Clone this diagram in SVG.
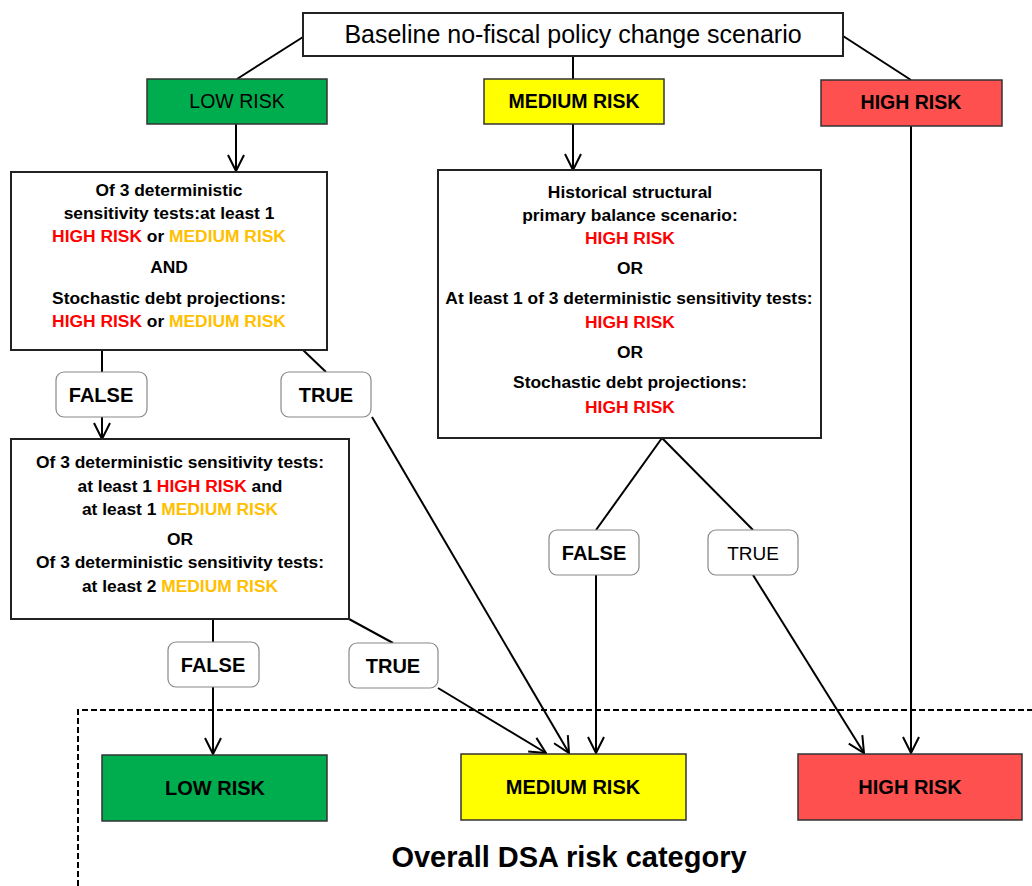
<svg xmlns="http://www.w3.org/2000/svg" width="1032" height="886" viewBox="0 0 1032 886">
<style>
text{font-family:"Liberation Sans",Arial,sans-serif;text-anchor:middle;fill:#000}
.box{fill:#fff;stroke:#222;stroke-width:2}
.lbl{fill:#fff;stroke:#888;stroke-width:1.2}
.b{font-weight:bold}
.t17{font-size:17.4px;font-weight:bold}
.l19{font-size:20px;font-weight:bold}
.r{fill:#ff0000}
.o{fill:#ffc000}
.con{stroke:#000;stroke-width:2;fill:none}
</style>
<defs>
<marker id="arr" markerUnits="userSpaceOnUse" markerWidth="18" markerHeight="18" viewBox="0 0 18 18" refX="17" refY="9" orient="auto">
<path d="M1,1 L17,9 L1,17" fill="none" stroke="#000" stroke-width="2"/>
</marker>
</defs>
<g id="frame">
<path d="M78,886 V710 H1032" fill="none" stroke="#000" stroke-width="2" stroke-dasharray="6,3"/>
<text x="569" y="867" class="b" font-size="29">Overall DSA risk category</text>
</g>
<g id="connectors" class="con">
<line x1="303" y1="37" x2="237" y2="79"/>
<line x1="573" y1="56" x2="573" y2="79"/>
<line x1="843" y1="36" x2="911" y2="80"/>
<line x1="236" y1="124" x2="236" y2="171" marker-end="url(#arr)"/>
<line x1="573" y1="124" x2="573" y2="170" marker-end="url(#arr)"/>
<line x1="102" y1="350" x2="102" y2="372"/>
<line x1="102" y1="417" x2="102" y2="439" marker-end="url(#arr)"/>
<line x1="303" y1="350" x2="326" y2="372"/>
<line x1="372" y1="417" x2="569" y2="753" marker-end="url(#arr)"/>
<line x1="213" y1="619" x2="213" y2="642"/>
<line x1="213" y1="687" x2="213" y2="754" marker-end="url(#arr)"/>
<line x1="349" y1="619" x2="393" y2="643"/>
<line x1="438" y1="688" x2="546" y2="753" marker-end="url(#arr)"/>
<line x1="662" y1="438" x2="596" y2="530"/>
<line x1="662" y1="438" x2="753" y2="530"/>
<line x1="596" y1="575" x2="596" y2="753" marker-end="url(#arr)"/>
<line x1="753" y1="575" x2="864" y2="753" marker-end="url(#arr)"/>
<line x1="911" y1="126" x2="911" y2="753" marker-end="url(#arr)"/>
</g>
<g id="baseline">
<rect x="303" y="13" width="540" height="43" class="box"/>
<text x="573" y="43" font-size="25">Baseline no-fiscal policy change scenario</text>
</g>
<g id="low-top">
<rect x="147" y="79" width="180" height="45" fill="#00ad4e" stroke="#333" stroke-width="1.5"/>
<text x="237" y="108" font-size="19.5">LOW RISK</text>
</g>
<g id="medium-top">
<rect x="484" y="79" width="180" height="45" fill="#ffff00" stroke="#333" stroke-width="1.5"/>
<text x="574" y="108" class="b" font-size="19.5">MEDIUM RISK</text>
</g>
<g id="high-top">
<rect x="821" y="80" width="181" height="46" fill="#ff5050" stroke="#333" stroke-width="1.5"/>
<text x="911" y="109" class="b" font-size="19.5">HIGH RISK</text>
</g>
<g id="test1">
<rect x="11" y="172" width="316" height="178" class="box"/>
<text x="169" y="196" class="t17">Of 3 deterministic</text>
<text x="169" y="219" class="t17">sensitivity tests:at least 1</text>
<text x="169" y="242" class="t17"><tspan class="r">HIGH RISK</tspan> or <tspan class="o">MEDIUM RISK</tspan></text>
<text x="169" y="273" class="t17">AND</text>
<text x="169" y="304" class="t17">Stochastic debt projections:</text>
<text x="169" y="327" class="t17"><tspan class="r">HIGH RISK</tspan> or <tspan class="o">MEDIUM RISK</tspan></text>
</g>
<g id="test2">
<rect x="11" y="439" width="338" height="180" class="box"/>
<text x="180" y="468" class="t17">Of 3 deterministic sensitivity tests:</text>
<text x="180" y="492" class="t17">at least 1 <tspan class="r">HIGH RISK</tspan> and</text>
<text x="180" y="515" class="t17">at least 1 <tspan class="o">MEDIUM RISK</tspan></text>
<text x="180" y="545" class="t17">OR</text>
<text x="180" y="568" class="t17">Of 3 deterministic sensitivity tests:</text>
<text x="180" y="592" class="t17">at least 2 <tspan class="o">MEDIUM RISK</tspan></text>
</g>
<g id="test3">
<rect x="438" y="170" width="383" height="268" class="box"/>
<text x="630" y="198" class="t17">Historical structural</text>
<text x="630" y="221" class="t17">primary balance scenario:</text>
<text x="630" y="244" class="t17 r">HIGH RISK</text>
<text x="630" y="274" class="t17">OR</text>
<text x="629" y="304" class="t17">At least 1 of 3 deterministic sensitivity tests:</text>
<text x="630" y="328" class="t17 r">HIGH RISK</text>
<text x="630" y="358" class="t17">OR</text>
<text x="630" y="388" class="t17">Stochastic debt projections:</text>
<text x="630" y="413" class="t17 r">HIGH RISK</text>
</g>
<g id="false1">
<rect x="56" y="372" width="91" height="45" rx="8" class="lbl"/>
<text x="101" y="402" class="l19">FALSE</text>
</g>
<g id="true1">
<rect x="281" y="372" width="90" height="45" rx="8" class="lbl"/>
<text x="326" y="402" class="l19">TRUE</text>
</g>
<g id="false2">
<rect x="168" y="642" width="91" height="45" rx="8" class="lbl"/>
<text x="213" y="672" class="l19">FALSE</text>
</g>
<g id="true2">
<rect x="349" y="643" width="89" height="45" rx="8" class="lbl"/>
<text x="393" y="673" class="l19">TRUE</text>
</g>
<g id="false3">
<rect x="549" y="530" width="90" height="45" rx="8" class="lbl"/>
<text x="594" y="560" class="l19">FALSE</text>
</g>
<g id="true3">
<rect x="708" y="530" width="90" height="45" rx="8" class="lbl"/>
<text x="753" y="560" font-size="19">TRUE</text>
</g>
<g id="low-result">
<rect x="102" y="755" width="225" height="66" fill="#00ad4e" stroke="#333" stroke-width="1.5"/>
<text x="215" y="795" class="b" font-size="20">LOW RISK</text>
</g>
<g id="medium-result">
<rect x="461" y="754" width="225" height="66" fill="#ffff00" stroke="#333" stroke-width="1.5"/>
<text x="573" y="794" class="b" font-size="20">MEDIUM RISK</text>
</g>
<g id="high-result">
<rect x="798" y="754" width="224" height="66" fill="#ff5050" stroke="#333" stroke-width="1.5"/>
<text x="910" y="794" class="b" font-size="20">HIGH RISK</text>
</g>
</svg>
